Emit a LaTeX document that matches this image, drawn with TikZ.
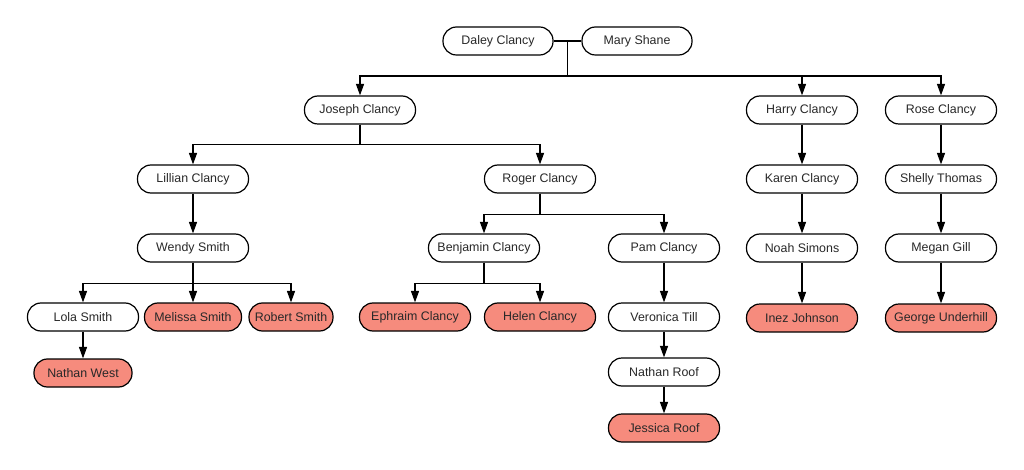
\documentclass[tikz,border=0pt]{standalone}
\usepackage{fontspec}
\setmainfont{Liberation Sans}
\usetikzlibrary{arrows.meta,calc}
\definecolor{salmon}{RGB}{246,139,125}
\definecolor{ink}{RGB}{40,40,40}
\begin{document}
\begin{tikzpicture}[x=1pt,y=-1pt,
  person/.style={draw, line width=1.2pt, rounded corners=13.5pt, minimum width=111pt,
    minimum height=28pt, inner sep=0pt, font=\fontsize{12.4}{14}\selectfont, text=ink, fill=white},
  leaf/.style={person, fill=salmon},
  link/.style={line width=1.3pt},
  arr/.style={link, -{Triangle[length=11.5pt,width=8pt]}}]
\useasboundingbox (0,0) rectangle (1024,470);
% nodes
\node[person, minimum width=110pt] (d)  at (498,41) {Daley Clancy};
\node[person, minimum width=110pt] (ms) at (637,41) {Mary Shane};
\node[person] (jos)   at (360,110) {Joseph Clancy};
\node[person] (harry) at (802,110) {Harry Clancy};
\node[person] (rose)  at (941,110) {Rose Clancy};
\node[person] (lil)   at (193,179) {Lillian Clancy};
\node[person] (rog)   at (540,179) {Roger Clancy};
\node[person] (karen) at (802,179) {Karen Clancy};
\node[person] (shel)  at (941,179) {Shelly Thomas};
\node[person] (wendy) at (193,248) {Wendy Smith};
\node[person] (ben)   at (484,248) {Benjamin Clancy};
\node[person] (pam)   at (664,248) {Pam Clancy};
\node[person] (noah)  at (802,248) {Noah Simons};
\node[person] (megan) at (941,248) {Megan Gill};
\node[person] (lola)  at (83,317) {Lola Smith};
\node[leaf, minimum width=97pt] (mel) at (193,317) {Melissa Smith};
\node[leaf, minimum width=84pt] (rob) at (291,317) {Robert Smith};
\node[leaf] (eph)     at (415,317) {Ephraim Clancy};
\node[leaf] (helen)   at (540,317) {Helen Clancy};
\node[person] (ver)   at (664,317) {Veronica Till};
\node[leaf] (inez)    at (802,318) {Inez Johnson};
\node[leaf] (george)  at (941,318) {George Underhill};
\node[leaf, minimum width=98pt] (nw) at (83,373) {Nathan West};
\node[person] (nroof) at (664,372) {Nathan Roof};
\node[leaf] (jess)    at (664,428) {Jessica Roof};
% couple
\draw[link] (d.east) -- (ms.west);
\coordinate (m) at ($(d.east)!.5!(ms.west)$);
\coordinate (mj) at ($(m)+(0,35)$);
\foreach \c in {jos,harry,rose} \draw[arr] (m) -- (mj) -| (\c.north);
% Joseph
\coordinate (josj) at ($(jos.south)+(0,20)$);
\foreach \c in {lil,rog} \draw[arr] (jos.south) -- (josj) -| (\c.north);
% Roger
\coordinate (rogj) at ($(rog.south)+(0,21)$);
\foreach \c in {ben,pam} \draw[arr] (rog.south) -- (rogj) -| (\c.north);
% Benjamin
\coordinate (benj) at ($(ben.south)+(0,21)$);
\foreach \c in {eph,helen} \draw[arr] (ben.south) -- (benj) -| (\c.north);
% Wendy
\coordinate (wenj) at ($(wendy.south)+(0,21)$);
\foreach \c in {lola,mel,rob} \draw[arr] (wendy.south) -- (wenj) -| (\c.north);
% single lines
\draw[arr] (lil.south) -- (wendy.north);
\draw[arr] (lola.south) -- (nw.north);
\draw[arr] (pam.south) -- (ver.north);
\draw[arr] (ver.south) -- (nroof.north);
\draw[arr] (nroof.south) -- (jess.north);
\draw[arr] (harry.south) -- (karen.north);
\draw[arr] (karen.south) -- (noah.north);
\draw[arr] (noah.south) -- (inez.north);
\draw[arr] (rose.south) -- (shel.north);
\draw[arr] (shel.south) -- (megan.north);
\draw[arr] (megan.south) -- (george.north);
\end{tikzpicture}
\end{document}
